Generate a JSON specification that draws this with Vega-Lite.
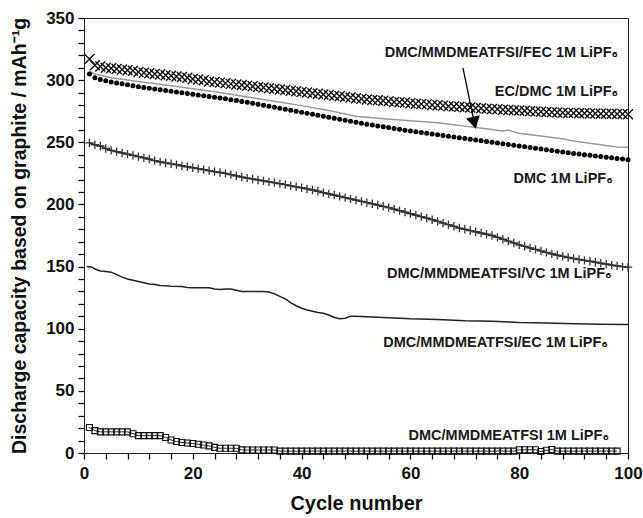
{
  "$schema": "https://vega.github.io/schema/vega-lite/v6.json",
  "width": 544,
  "height": 435,
  "autosize": "none",
  "padding": {"left": 84, "top": 18, "right": 15, "bottom": 65},
  "background": "white",
  "config": {"view": {"stroke": "#222", "strokeWidth": 1}},
  "datasets": {
    "fec": [{"c":1,"v":317},{"c":2,"v":312},{"c":3,"v":311},{"c":4,"v":310},{"c":5,"v":309.5},{"c":6,"v":309},{"c":7,"v":308.5},{"c":8,"v":308},{"c":9,"v":307.5},{"c":10,"v":306.5},{"c":11,"v":306},{"c":12,"v":305.5},{"c":13,"v":305},{"c":14,"v":304.5},{"c":15,"v":304},{"c":16,"v":303.5},{"c":17,"v":303},{"c":18,"v":302.5},{"c":19,"v":302},{"c":20,"v":301},{"c":21,"v":300.5},{"c":22,"v":300},{"c":23,"v":299},{"c":24,"v":298.5},{"c":25,"v":298},{"c":26,"v":297.5},{"c":27,"v":297},{"c":28,"v":296.5},{"c":29,"v":296},{"c":30,"v":295.5},{"c":31,"v":295},{"c":32,"v":294.5},{"c":33,"v":294},{"c":34,"v":293.5},{"c":35,"v":293},{"c":36,"v":292.5},{"c":37,"v":292},{"c":38,"v":291.5},{"c":39,"v":291},{"c":40,"v":290.5},{"c":41,"v":290},{"c":42,"v":289.5},{"c":43,"v":289},{"c":44,"v":288.5},{"c":45,"v":288},{"c":46,"v":287.5},{"c":47,"v":287},{"c":48,"v":286.5},{"c":49,"v":286},{"c":50,"v":285.5},{"c":51,"v":285},{"c":52,"v":284.5},{"c":53,"v":284},{"c":54,"v":283.8},{"c":55,"v":283.5},{"c":56,"v":283},{"c":57,"v":282.5},{"c":58,"v":282.2},{"c":59,"v":282},{"c":60,"v":281.5},{"c":61,"v":281},{"c":62,"v":280.8},{"c":63,"v":280.5},{"c":64,"v":280},{"c":65,"v":279.8},{"c":66,"v":279.5},{"c":67,"v":279},{"c":68,"v":278.8},{"c":69,"v":278.5},{"c":70,"v":278.2},{"c":71,"v":278},{"c":72,"v":277.6},{"c":73,"v":277.3},{"c":74,"v":277},{"c":75,"v":276.8},{"c":76,"v":276.5},{"c":77,"v":276.2},{"c":78,"v":276},{"c":79,"v":275.8},{"c":80,"v":275.5},{"c":81,"v":275.3},{"c":82,"v":275},{"c":83,"v":274.8},{"c":84,"v":274.6},{"c":85,"v":274.4},{"c":86,"v":274.2},{"c":87,"v":274},{"c":88,"v":273.8},{"c":89,"v":273.6},{"c":90,"v":273.5},{"c":91,"v":273.4},{"c":92,"v":273.3},{"c":93,"v":273.2},{"c":94,"v":273.1},{"c":95,"v":273},{"c":96,"v":273},{"c":97,"v":272.9},{"c":98,"v":272.8},{"c":99,"v":272.7},{"c":100,"v":272.6}],
    "dmc": [{"c":1,"v":305},{"c":2,"v":302},{"c":3,"v":300.5},{"c":4,"v":299.5},{"c":5,"v":298.5},{"c":6,"v":297.7},{"c":7,"v":297},{"c":8,"v":296.2},{"c":9,"v":295.5},{"c":10,"v":294.7},{"c":11,"v":294},{"c":12,"v":293.4},{"c":13,"v":292.8},{"c":14,"v":292.2},{"c":15,"v":291.6},{"c":16,"v":291},{"c":17,"v":290.4},{"c":18,"v":289.8},{"c":19,"v":289.2},{"c":20,"v":288.6},{"c":21,"v":288},{"c":22,"v":287.4},{"c":23,"v":286.8},{"c":24,"v":286.2},{"c":25,"v":285.6},{"c":26,"v":285},{"c":27,"v":284.3},{"c":28,"v":283.6},{"c":29,"v":282.9},{"c":30,"v":282.2},{"c":31,"v":281.4},{"c":32,"v":280.6},{"c":33,"v":279.8},{"c":34,"v":279},{"c":35,"v":278.2},{"c":36,"v":277.4},{"c":37,"v":276.6},{"c":38,"v":275.8},{"c":39,"v":275},{"c":40,"v":274.2},{"c":41,"v":273.4},{"c":42,"v":272.6},{"c":43,"v":271.8},{"c":44,"v":271},{"c":45,"v":270.2},{"c":46,"v":269.4},{"c":47,"v":268.6},{"c":48,"v":267.8},{"c":49,"v":267},{"c":50,"v":266.2},{"c":51,"v":265.4},{"c":52,"v":264.6},{"c":53,"v":263.9},{"c":54,"v":263.2},{"c":55,"v":262.5},{"c":56,"v":261.8},{"c":57,"v":261.1},{"c":58,"v":260.4},{"c":59,"v":259.7},{"c":60,"v":259},{"c":61,"v":258.4},{"c":62,"v":257.8},{"c":63,"v":257.2},{"c":64,"v":256.6},{"c":65,"v":256},{"c":66,"v":255.4},{"c":67,"v":254.8},{"c":68,"v":254.2},{"c":69,"v":253.6},{"c":70,"v":253},{"c":71,"v":252.4},{"c":72,"v":251.8},{"c":73,"v":251.2},{"c":74,"v":250.6},{"c":75,"v":250},{"c":76,"v":249.4},{"c":77,"v":248.8},{"c":78,"v":248.2},{"c":79,"v":247.6},{"c":80,"v":247},{"c":81,"v":246.4},{"c":82,"v":245.8},{"c":83,"v":245.2},{"c":84,"v":244.6},{"c":85,"v":244},{"c":86,"v":243.4},{"c":87,"v":242.8},{"c":88,"v":242.2},{"c":89,"v":241.6},{"c":90,"v":241},{"c":91,"v":240.5},{"c":92,"v":240},{"c":93,"v":239.5},{"c":94,"v":239},{"c":95,"v":238.5},{"c":96,"v":238},{"c":97,"v":237.5},{"c":98,"v":237},{"c":99,"v":236.5},{"c":100,"v":236}],
    "ecdmc": [{"c":1,"v":307},{"c":2,"v":305},{"c":5,"v":302},{"c":10,"v":299},{"c":15,"v":296},{"c":20,"v":293},{"c":25,"v":290},{"c":30,"v":286.5},{"c":35,"v":283},{"c":40,"v":279.5},{"c":45,"v":275.5},{"c":50,"v":271},{"c":55,"v":269},{"c":60,"v":267.3},{"c":65,"v":265.8},{"c":70,"v":263},{"c":72,"v":261.9},{"c":75,"v":260.2},{"c":77,"v":259},{"c":78,"v":259.8},{"c":79,"v":258.4},{"c":80,"v":257.3},{"c":85,"v":254.4},{"c":88,"v":252.8},{"c":90,"v":251},{"c":95,"v":248},{"c":98,"v":246.3},{"c":100,"v":246}],
    "vc": [{"c":1,"v":249.5},{"c":2,"v":248},{"c":3,"v":247},{"c":4,"v":245},{"c":5,"v":243.5},{"c":6,"v":242.5},{"c":7,"v":241.5},{"c":8,"v":240.5},{"c":9,"v":239.5},{"c":10,"v":238.5},{"c":11,"v":237.5},{"c":12,"v":236.5},{"c":13,"v":235.2},{"c":14,"v":234.2},{"c":15,"v":233.5},{"c":16,"v":232.7},{"c":17,"v":232},{"c":18,"v":231},{"c":19,"v":230.3},{"c":20,"v":229.5},{"c":21,"v":228.8},{"c":22,"v":228},{"c":23,"v":227.2},{"c":24,"v":226.4},{"c":25,"v":225.7},{"c":26,"v":225},{"c":27,"v":224},{"c":28,"v":223},{"c":29,"v":222},{"c":30,"v":221.2},{"c":31,"v":220.5},{"c":32,"v":219.7},{"c":33,"v":219},{"c":34,"v":218.2},{"c":35,"v":217.5},{"c":36,"v":216.7},{"c":37,"v":216},{"c":38,"v":215},{"c":39,"v":214.2},{"c":40,"v":213.4},{"c":41,"v":212.5},{"c":42,"v":211.6},{"c":43,"v":210.6},{"c":44,"v":209.5},{"c":45,"v":208.5},{"c":46,"v":207.5},{"c":47,"v":206.5},{"c":48,"v":205.5},{"c":49,"v":204.5},{"c":50,"v":203.5},{"c":51,"v":202.5},{"c":52,"v":201.5},{"c":53,"v":200.5},{"c":54,"v":199.5},{"c":55,"v":198.5},{"c":56,"v":197.5},{"c":57,"v":196.2},{"c":58,"v":195},{"c":59,"v":193.8},{"c":60,"v":192.6},{"c":61,"v":191.4},{"c":62,"v":190.2},{"c":63,"v":189},{"c":64,"v":187.7},{"c":65,"v":186.4},{"c":66,"v":185},{"c":67,"v":183.7},{"c":68,"v":182.4},{"c":69,"v":181},{"c":70,"v":180},{"c":71,"v":179},{"c":72,"v":178},{"c":73,"v":177},{"c":74,"v":176},{"c":75,"v":175},{"c":76,"v":173.5},{"c":77,"v":172},{"c":78,"v":170.5},{"c":79,"v":169},{"c":80,"v":167.5},{"c":81,"v":166.2},{"c":82,"v":165},{"c":83,"v":163.8},{"c":84,"v":162.6},{"c":85,"v":161.4},{"c":86,"v":160.2},{"c":87,"v":159.2},{"c":88,"v":158.2},{"c":89,"v":157.3},{"c":90,"v":156.5},{"c":91,"v":155.7},{"c":92,"v":155},{"c":93,"v":154.3},{"c":94,"v":153.5},{"c":95,"v":152.7},{"c":96,"v":152},{"c":97,"v":151.2},{"c":98,"v":150.5},{"c":99,"v":150},{"c":100,"v":149.5}],
    "ec": [{"c":0.5,"v":150},{"c":1.5,"v":149.5},{"c":2,"v":148},{"c":3,"v":146.5},{"c":4,"v":146},{"c":5,"v":145.5},{"c":6,"v":143.5},{"c":7,"v":141.5},{"c":8,"v":140},{"c":9,"v":139},{"c":10,"v":138},{"c":11,"v":137},{"c":12,"v":136},{"c":13,"v":135.5},{"c":14,"v":134.8},{"c":15,"v":134.5},{"c":16,"v":134.2},{"c":18,"v":134},{"c":19,"v":133.2},{"c":20,"v":133},{"c":23,"v":133},{"c":24,"v":132},{"c":25,"v":131.5},{"c":26,"v":132},{"c":27,"v":132},{"c":28,"v":131},{"c":29,"v":130},{"c":33,"v":130},{"c":34,"v":129.5},{"c":35,"v":128},{"c":36,"v":126},{"c":37,"v":124},{"c":38,"v":121},{"c":39,"v":118.5},{"c":40,"v":116.5},{"c":41,"v":115},{"c":42,"v":114},{"c":43,"v":113},{"c":44,"v":112.5},{"c":45,"v":111},{"c":46,"v":109},{"c":47,"v":108},{"c":48,"v":108.5},{"c":49,"v":110},{"c":50,"v":110},{"c":55,"v":109},{"c":60,"v":108},{"c":65,"v":107.5},{"c":70,"v":106.5},{"c":75,"v":106},{"c":80,"v":105},{"c":85,"v":104.5},{"c":90,"v":104},{"c":95,"v":103.5},{"c":100,"v":103.3}],
    "tfsi": [{"c":1,"v":20.5},{"c":2,"v":18},{"c":3,"v":17},{"c":4,"v":17},{"c":5,"v":17},{"c":6,"v":17},{"c":7,"v":17},{"c":8,"v":17},{"c":9,"v":15.5},{"c":10,"v":14},{"c":11,"v":14},{"c":12,"v":14},{"c":13,"v":14},{"c":14,"v":14},{"c":15,"v":12.5},{"c":16,"v":10.5},{"c":17,"v":9.2},{"c":18,"v":8.5},{"c":19,"v":8},{"c":20,"v":7.6},{"c":21,"v":7},{"c":22,"v":6.4},{"c":23,"v":5.7},{"c":24,"v":4.5},{"c":25,"v":3.8},{"c":26,"v":3.8},{"c":27,"v":3.8},{"c":28,"v":3.8},{"c":29,"v":2.5},{"c":30,"v":2.4},{"c":31,"v":2.4},{"c":32,"v":2.4},{"c":33,"v":2.4},{"c":34,"v":2.4},{"c":35,"v":2.4},{"c":36,"v":1.5},{"c":37,"v":1.5},{"c":38,"v":1.5},{"c":39,"v":1.5},{"c":40,"v":1.5},{"c":41,"v":1.5},{"c":42,"v":1.5},{"c":43,"v":1.5},{"c":44,"v":1.5},{"c":45,"v":1.5},{"c":46,"v":1.5},{"c":47,"v":1.5},{"c":48,"v":1.5},{"c":49,"v":1.5},{"c":50,"v":1.5},{"c":51,"v":1.5},{"c":52,"v":1.5},{"c":53,"v":1.5},{"c":54,"v":1.5},{"c":55,"v":1.5},{"c":56,"v":1.5},{"c":57,"v":1.5},{"c":58,"v":1.5},{"c":59,"v":1.5},{"c":60,"v":1.5},{"c":61,"v":1.5},{"c":62,"v":1.5},{"c":63,"v":1.5},{"c":64,"v":1.5},{"c":65,"v":1.5},{"c":66,"v":1.5},{"c":67,"v":1.5},{"c":68,"v":1.5},{"c":69,"v":1.5},{"c":70,"v":1.5},{"c":71,"v":1.5},{"c":72,"v":1.5},{"c":73,"v":1.5},{"c":74,"v":1.5},{"c":75,"v":1.5},{"c":76,"v":1.5},{"c":77,"v":1.5},{"c":78,"v":1.5},{"c":79,"v":1.5},{"c":80,"v":2.6},{"c":81,"v":2.6},{"c":82,"v":2.6},{"c":83,"v":2.6},{"c":84,"v":1.2},{"c":85,"v":2.2},{"c":86,"v":2.8},{"c":87,"v":1.5},{"c":88,"v":1.5},{"c":89,"v":1.5},{"c":90,"v":1.5},{"c":91,"v":1.5},{"c":92,"v":1.5},{"c":93,"v":1.5},{"c":94,"v":1.5},{"c":95,"v":1.5},{"c":96,"v":1.5},{"c":97,"v":1.5},{"c":98,"v":1.5}],
    "labels": [
      {"c":98.2,"v":321.8,"t":"DMC/MMDMEATFSI/FEC 1M LiPF₆"},
      {"c":98.2,"v":290.7,"t":"EC/DMC 1M LiPF₆"},
      {"c":97.2,"v":220.7,"t":"DMC 1M LiPF₆"},
      {"c":97.0,"v":144,"t":"DMC/MMDMEATFSI/VC 1M LiPF₆"},
      {"c":96.3,"v":88.5,"t":"DMC/MMDMEATFSI/EC 1M LiPF₆"},
      {"c":96.5,"v":13.6,"t":"DMC/MMDMEATFSI 1M LiPF₆"}
    ],
    "arrow": [{"c":69.67,"v":309.7,"c2":71.75,"v2":265.7}]
  },
  "encoding": {
    "x": {"field": "c", "type": "quantitative", "scale": {"domain": [0, 100], "nice": false},
      "axis": {"title": "Cycle number", "titleFont": "Liberation Sans", "titleFontWeight": "bold", "titleColor": "#111", "titleFontSize": 20, "titlePadding": 12,
        "labelFont": "Liberation Sans", "labelFontWeight": "bold", "labelColor": "#111", "labelFontSize": 17, "labelPadding": 6, "labelFlush": false,
        "grid": false, "domainColor": "#222", "ticks": true, "tickSize": 6, "tickWidth": 1.3, "tickColor": "#111",
        "labelOverlap": false, "values": [0,4,8,12,16,20,24,28,32,36,40,44,48,52,56,60,64,68,72,76,80,84,88,92,96,100],
        "labelExpr": "datum.value % 20 === 0 ? datum.label : ''"}},
    "y": {"field": "v", "type": "quantitative", "scale": {"domain": [0, 350], "nice": false},
      "axis": {"title": "Discharge capacity based on graphite / mAh⁻¹g", "titleFont": "Liberation Sans", "titleFontWeight": "bold", "titleColor": "#111", "titleFontSize": 19.5, "titlePadding": 16,
        "labelFont": "Liberation Sans", "labelFontWeight": "bold", "labelColor": "#111", "labelFontSize": 17, "labelPadding": 4, "labelFlush": false,
        "grid": false, "domainColor": "#222", "ticks": true, "tickSize": 6, "tickWidth": 1.3, "tickColor": "#111",
        "labelOverlap": false, "values": [0,10,20,30,40,50,60,70,80,90,100,110,120,130,140,150,160,170,180,190,200,210,220,230,240,250,260,270,280,290,300,310,320,330,340,350],
        "labelExpr": "datum.value % 50 === 0 ? datum.label : ''"}}
  },
  "layer": [
    {"data": {"name": "ecdmc"}, "mark": {"type": "line", "color": "#9a9a9a", "strokeWidth": 1.5}},
    {"data": {"name": "ec"}, "mark": {"type": "line", "color": "#222", "strokeWidth": 1.5}},
    {"data": {"name": "vc"}, "mark": {"type": "line", "color": "#333", "strokeWidth": 1.6}},
    {"data": {"name": "vc"}, "mark": {"type": "point", "shape": "M-1,0L1,0M0,-1L0,1", "filled": false, "stroke": "#333", "strokeWidth": 1.3, "size": 70, "opacity": 1}},
    {"data": {"name": "tfsi"}, "mark": {"type": "line", "color": "#222", "strokeWidth": 1}},
    {"data": {"name": "tfsi"}, "mark": {"type": "point", "shape": "square", "filled": false, "stroke": "#111", "strokeWidth": 1.1, "size": 36, "opacity": 1}},
    {"data": {"name": "dmc"}, "mark": {"type": "point", "shape": "circle", "filled": true, "color": "#000", "size": 25, "opacity": 1}},
    {"data": {"name": "fec"}, "mark": {"type": "point", "shape": "M-1,-1L1,1M1,-1L-1,1", "filled": false, "stroke": "#111", "strokeWidth": 1.4, "size": 100, "opacity": 1}},
    {"data": {"name": "arrow"}, "mark": {"type": "rule", "color": "#000", "strokeWidth": 1.3},
      "encoding": {"x2": {"field": "c2"}, "y2": {"field": "v2"}}},
    {"data": {"name": "arrow"}, "mark": {"type": "point", "shape": "triangle-down", "filled": true, "color": "#000", "size": 200, "opacity": 1, "angle": 347},
      "encoding": {"x": {"field": "c2", "type": "quantitative"}, "y": {"field": "v2", "type": "quantitative"}}},
    {"data": {"name": "labels"}, "mark": {"type": "text", "align": "right", "baseline": "middle", "font": "Liberation Sans", "fontWeight": "bold", "fontSize": 14.5, "color": "#1a1a1a"},
      "encoding": {"text": {"field": "t"}}}
  ]
}
